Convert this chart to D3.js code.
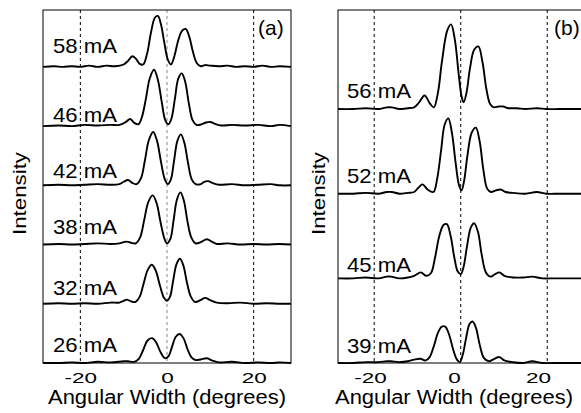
<!DOCTYPE html>
<html>
<head>
<meta charset="utf-8">
<script src="https://cdn.jsdelivr.net/npm/d3@7/dist/d3.min.js"></script>
<style>
  body { margin: 0; background: #fff; }
  text { font-family: "Liberation Sans", Arial, sans-serif; fill: #000; }
</style>
</head>
<body>
<div id="chart-area"></div>
<script>
// ---- data ----
var xTicks = [-20, 0, 20];

// panel (a)
var aCurrents = ["58 mA", "46 mA", "42 mA", "38 mA", "32 mA", "26 mA"];
var aOffsets = [5, 4, 3, 2, 1, 0];
var aGrid = [-20, 0, 20];
var aTraces = [
  // 58 mA
  [[-28.6,0],[-26,0.01],[-24,0],[-22,0.01],[-20,0],[-18,0.02],[-16,0],[-14,0.02],[-12,0.01],[-10,0.04],[-9,0.1],[-8,0.18],[-7.2,0.14],[-6.3,0.05],[-5.5,0.04],[-4.6,0.22],[-3.7,0.58],[-2.8,0.83],[-2.1,0.86],[-1.4,0.72],[-0.6,0.4],[0.2,0.12],[0.9,0.04],[1.7,0.18],[2.6,0.45],[3.5,0.61],[4.3,0.64],[5.1,0.52],[6,0.25],[6.9,0.06],[7.8,0.01],[8.8,0.03],[10,0.02],[12,0.01],[14,0.02],[16,0],[18,0.01],[20,0],[22,0.02],[24,0],[26,0.01],[28.6,0]],
  // 46 mA
  [[-28.6,0],[-25,0.01],[-22,0],[-19,0.02],[-16,0.01],[-13,0.02],[-11,0.02],[-9.5,0.07],[-8.5,0.12],[-7.5,0.05],[-6.6,0.03],[-5.8,0.15],[-4.9,0.45],[-4,0.8],[-3,0.95],[-2.1,0.78],[-1.2,0.4],[-0.4,0.1],[0.3,0.03],[1,0.12],[1.8,0.45],[2.6,0.8],[3.4,0.89],[4.2,0.75],[5,0.4],[5.9,0.1],[6.8,0.02],[8,0.03],[9,0.06],[10,0.07],[11,0.04],[12.5,0.01],[15,0.02],[18,0.01],[21,0.02],[24,0],[26,0.02],[28.6,0]],
  // 42 mA
  [[-28.6,0],[-25,0.01],[-22,0],[-19,0.01],[-16,0.02],[-13,0.01],[-11,0.02],[-10,0.06],[-9,0.09],[-8,0.04],[-7,0.02],[-6,0.12],[-5.1,0.42],[-4.2,0.76],[-3.2,0.9],[-2.3,0.75],[-1.4,0.4],[-0.5,0.1],[0.2,0.02],[0.9,0.1],[1.6,0.4],[2.4,0.75],[3.2,0.86],[4,0.72],[4.8,0.4],[5.7,0.1],[6.6,0.02],[7.8,0.02],[8.6,0.06],[9.5,0.07],[10.5,0.04],[12,0.01],[15,0.02],[18,0],[21,0.01],[24,0.02],[26,0],[28.6,0]],
  // 38 mA
  [[-28.6,0],[-25,0.01],[-22,0],[-19,0.01],[-16,0.02],[-13,0.01],[-11,0.02],[-10,0.04],[-9.3,0.05],[-8.3,0.03],[-7.2,0.02],[-6.2,0.12],[-5.3,0.4],[-4.3,0.72],[-3.3,0.83],[-2.4,0.7],[-1.5,0.38],[-0.6,0.1],[0,0.02],[0.8,0.1],[1.5,0.4],[2.3,0.76],[3.1,0.88],[3.9,0.74],[4.7,0.4],[5.6,0.12],[6.6,0.02],[7.8,0.04],[9.2,0.09],[10.3,0.05],[11.5,0.01],[14,0.02],[17,0],[20,0.01],[23,0],[26,0.01],[28.6,0]],
  // 32 mA
  [[-28.6,0],[-25,0.01],[-22,0],[-19,0.01],[-16,0],[-13,0.02],[-11,0.02],[-10,0.05],[-9.3,0.07],[-8.3,0.04],[-7.3,0.03],[-6.3,0.12],[-5.4,0.34],[-4.4,0.58],[-3.5,0.66],[-2.6,0.56],[-1.6,0.3],[-0.7,0.1],[0,0.05],[0.7,0.12],[1.4,0.38],[2.2,0.67],[3,0.76],[3.8,0.64],[4.6,0.36],[5.5,0.12],[6.5,0.03],[7.7,0.06],[8.8,0.1],[10,0.06],[11.5,0.02],[14,0.01],[17,0.02],[20,0],[23,0.01],[26,0],[28.6,0]],
  // 26 mA
  [[-28.6,0],[-25,0],[-22,0.01],[-19,0],[-16,0.02],[-13,0.01],[-10,0.03],[-9,0.03],[-7.6,0.02],[-6.5,0.07],[-5.5,0.22],[-4.5,0.38],[-3.5,0.42],[-2.6,0.36],[-1.6,0.2],[-0.8,0.1],[-0.3,0.08],[0.4,0.12],[1.1,0.26],[2,0.44],[2.9,0.49],[3.8,0.42],[4.7,0.24],[5.6,0.1],[6.6,0.05],[7.8,0.06],[9.2,0.08],[10.5,0.04],[12,0.01],[15,0.02],[18,0],[21,0.01],[24,0],[26,0.01],[28.6,0]]
];

// panel (b)
var bCurrents = ["56 mA", "52 mA", "45 mA", "39 mA"];
var bOffsets = [3, 2, 1, 0];
var bGrid = [-19, 1.6, 22.2];
var bTraces = [
  // 56 mA
  [[-27.6,0],[-24,0],[-21,0.01],[-18,0],[-16,0.02],[-14.8,0.02],[-13,0],[-11,0.01],[-9.5,0.02],[-8.3,0.08],[-7,0.16],[-5.8,0.07],[-4.8,0.02],[-3.8,0.2],[-2.9,0.55],[-1.6,0.93],[-0.7,1.0],[0.2,0.82],[1.1,0.42],[1.8,0.15],[2.3,0.08],[3,0.2],[3.8,0.48],[4.8,0.7],[5.8,0.74],[6.8,0.55],[7.7,0.24],[8.6,0.06],[9.5,0.02],[10.6,0.03],[11.7,0.03],[13,0.01],[15,0.01],[17,0],[19.7,0.01],[22,0],[25,0],[28,0],[31.4,0]],
  // 52 mA
  [[-27.6,0],[-24,0],[-21,0.01],[-18,0],[-16,0.02],[-14.8,0.02],[-13,0],[-11,0.01],[-9.5,0.02],[-8.5,0.07],[-7.5,0.11],[-6.3,0.05],[-4.9,0.02],[-4,0.18],[-3.1,0.5],[-2.2,0.82],[-1.35,0.89],[-0.5,0.72],[0.4,0.36],[1.2,0.1],[1.8,0.04],[2.4,0.15],[3.2,0.45],[4.2,0.72],[5.2,0.78],[6.1,0.62],[7,0.28],[7.9,0.06],[8.8,0.02],[10,0.04],[11.1,0.05],[12.3,0.02],[14,0.01],[17,0],[19.7,0.02],[22,0],[25,0],[28,0],[31.4,0]],
  // 45 mA
  [[-27.6,0],[-24,0],[-21,0.01],[-18,0],[-16,0.02],[-15,0.02],[-13,0],[-11,0.01],[-9.5,0.03],[-7.9,0.07],[-6.6,0.03],[-5.5,0.06],[-4.5,0.25],[-3.5,0.5],[-2.5,0.63],[-1.7,0.64],[-0.8,0.5],[0.1,0.24],[0.9,0.08],[1.6,0.05],[2.3,0.14],[3.1,0.38],[4,0.6],[4.8,0.65],[5.7,0.55],[6.6,0.28],[7.6,0.07],[8.7,0.02],[9.8,0.05],[10.8,0.07],[12,0.03],[14,0.01],[16.5,0.01],[18.6,0.02],[21,0],[24,0],[28,0],[31.4,0]],
  // 39 mA
  [[-27.6,0],[-24,0],[-21,0.01],[-18,0.01],[-16,0.02],[-15,0.02],[-13,0.01],[-11,0.02],[-9.5,0.04],[-8,0.05],[-6.8,0.03],[-5.8,0.07],[-4.8,0.2],[-3.8,0.36],[-2.9,0.43],[-2.1,0.43],[-1.2,0.34],[-0.2,0.16],[0.7,0.04],[1.4,0.01],[2.1,0.1],[2.9,0.3],[3.7,0.46],[4.4,0.49],[5.2,0.42],[6.1,0.22],[7.1,0.06],[8.3,0.02],[9.6,0.05],[10.8,0.07],[12,0.03],[14,0.01],[16.5,0],[18.6,0.02],[21,0],[24,0],[28,0],[31.4,0]]
];

// ---- drawing ----
var W = 581, H = 413;

var svg = d3.select("#chart-area")
  .append("svg")
    .attr("width", W)
    .attr("height", H);

function drawPanel(opt) {
  var x = d3.scaleLinear().domain(opt.xDomain).range([opt.left, opt.right]);
  var y = d3.scaleLinear().domain(opt.yDomain).range([opt.bottom, opt.top]);

  var g = svg.append("g");

  // dashed guide lines
  g.selectAll("line.grid")
    .data(opt.grid)
    .enter().append("line")
      .attr("class", "grid")
      .attr("x1", function(d){ return x(d); })
      .attr("x2", function(d){ return x(d); })
      .attr("y1", opt.top)
      .attr("y2", opt.bottom)
      .attr("stroke", function(d, i){ return opt.gridColor[i]; })
      .attr("stroke-width", 1)
      .attr("stroke-dasharray", "3,3");

  var line = d3.line()
    .x(function(d){ return x(d[0]); })
    .y(function(d){ return y(d[1]); })
    .curve(d3.curveCatmullRom.alpha(0.5));

  opt.traces.forEach(function(tr, i){
    var off = opt.offsets[i];
    g.append("path")
      .datum(tr.map(function(p){ return [p[0], p[1] + off]; }))
      .attr("d", line)
      .attr("fill", "none")
      .attr("stroke", "#000")
      .attr("stroke-width", 1.9)
      .attr("stroke-linejoin", "round");
  });

  // frame
  g.append("rect")
    .attr("x", opt.left)
    .attr("y", opt.top)
    .attr("width", opt.right - opt.left)
    .attr("height", opt.bottom - opt.top)
    .attr("fill", "none")
    .attr("stroke", "#000")
    .attr("stroke-width", 1);

  // current labels
  g.selectAll("text.cur")
    .data(opt.currents)
    .enter().append("text")
      .attr("class", "cur")
      .attr("x", opt.labelX)
      .attr("y", function(d, i){ return opt.labelY[i]; })
      .attr("font-size", "21px")
      .attr("textLength", 64)
      .attr("lengthAdjust", "spacingAndGlyphs")
      .text(function(d){ return d; });

  // panel tag
  g.append("text")
    .attr("x", opt.tagX)
    .attr("y", 35)
    .attr("font-size", "21px")
    .text(opt.tag);

  // x axis
  var xAxis = d3.axisBottom(x).tickValues(xTicks).tickSize(0).tickPadding(0)
    .tickFormat(function(d){ return d < 0 ? "-" + Math.abs(d) : d; });
  var ax = g.append("g")
    .attr("transform", "translate(0," + opt.bottom + ")")
    .call(xAxis);
  ax.select(".domain").remove();
  ax.selectAll("text")
    .attr("dy", null)
    .attr("y", 20)
    .attr("font-size", "15px")
    .attr("fill", "#000")
    .attr("font-family", "Liberation Sans, Arial, sans-serif")
    .attr("transform", "scale(1.5,1)");

  g.append("text")
    .attr("x", x(0))
    .attr("y", 404)
    .attr("font-size", "20px")
    .attr("text-anchor", "middle")
    .attr("textLength", 238)
    .attr("lengthAdjust", "spacingAndGlyphs")
    .text("Angular Width (degrees)");

  g.append("text")
    .attr("transform", "translate(" + opt.yLabelX + ",193.5) rotate(-90)")
    .attr("font-size", "18px")
    .attr("text-anchor", "middle")
    .attr("textLength", 83)
    .attr("lengthAdjust", "spacingAndGlyphs")
    .text("Intensity");
}

drawPanel({
  left: 43, right: 291, top: 10, bottom: 363,
  xDomain: [-28.62, 28.62], yDomain: [0, 5.96],
  grid: aGrid, gridColor: ["#000", "#888", "#000"],
  traces: aTraces, offsets: aOffsets,
  currents: aCurrents, labelX: 53, labelY: [53, 122, 178, 234, 295, 352],
  tag: "(a)", tagX: 258, yLabelX: 26
});

drawPanel({
  left: 338, right: 586, top: 10, bottom: 363,
  xDomain: [-27.62, 31.43], yDomain: [0, 4.17],
  grid: bGrid, gridColor: ["#000", "#000", "#000"],
  traces: bTraces, offsets: bOffsets,
  currents: bCurrents, labelX: 347, labelY: [98, 183, 272, 353],
  tag: "(b)", tagX: 554, yLabelX: 325
});
</script>
</body>
</html>
